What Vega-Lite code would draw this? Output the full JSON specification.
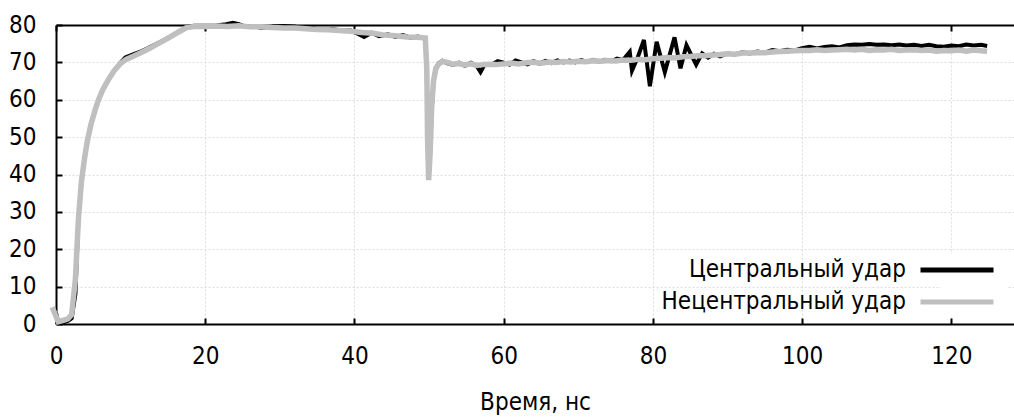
{
  "$schema": "https://vega.github.io/schema/vega-lite/v6.json",
  "width": 958,
  "height": 299,
  "autosize": {"type": "none"},
  "padding": {"left": 56, "top": 25, "right": 0, "bottom": 94},
  "background": "white",
  "config": {"font": "DejaVu Sans Condensed", "view": {"stroke": null}},
  "datasets": {
    "central": [
      {"t":0,"v":3},{"t":0.3,"v":0.5},{"t":1,"v":0.5},{"t":1.6,"v":0.8},{"t":2.1,"v":1.5},{"t":2.6,"v":8},{"t":3,"v":28},{"t":3.4,"v":38},{"t":3.8,"v":44},{"t":4.2,"v":49},{"t":4.7,"v":53.5},{"t":5.2,"v":57},{"t":5.7,"v":60},{"t":6.3,"v":62.8},{"t":7,"v":65.3},{"t":7.8,"v":67.8},{"t":8.6,"v":69.8},{"t":9.3,"v":71.3},{"t":10.5,"v":72.3},{"t":11.5,"v":73.0},{"t":12.3,"v":73.8},{"t":13.5,"v":75.0},{"t":14.5,"v":76.0},{"t":15.5,"v":77.1},{"t":16.5,"v":78.3},{"t":17.5,"v":79.5},{"t":18.5,"v":79.8},{"t":20,"v":79.8},{"t":21.5,"v":79.9},{"t":22.8,"v":80.2},{"t":23.7,"v":80.6},{"t":24.5,"v":80.2},{"t":25.3,"v":79.6},{"t":26.5,"v":79.6},{"t":27.5,"v":79.3},{"t":29,"v":79.6},{"t":30.5,"v":79.7},{"t":32,"v":79.6},{"t":33,"v":79.1},{"t":34.5,"v":79.2},{"t":35.5,"v":78.7},{"t":37,"v":78.9},{"t":38,"v":78.6},{"t":39.5,"v":78.5},{"t":40.5,"v":77.6},{"t":41.3,"v":76.8},{"t":42.3,"v":77.9},{"t":43.3,"v":77.0},{"t":44.5,"v":77.5},{"t":45.5,"v":76.8},{"t":46.5,"v":77.3},{"t":47.5,"v":76.6},{"t":48.5,"v":76.9},{"t":49.5,"v":76.4},{"t":49.7,"v":68},{"t":49.8,"v":50},{"t":49.95,"v":39},{"t":50.15,"v":46},{"t":50.35,"v":57},{"t":50.6,"v":65},{"t":50.9,"v":68.5},{"t":51.3,"v":69.8},{"t":51.8,"v":70.4},{"t":52.5,"v":69.7},{"t":53.2,"v":69.3},{"t":54,"v":69.9},{"t":54.8,"v":69.1},{"t":55.6,"v":69.9},{"t":56.4,"v":69.0},{"t":56.9,"v":67.4},{"t":57.5,"v":69.6},{"t":58.3,"v":69.3},{"t":59.2,"v":70.3},{"t":60,"v":69.9},{"t":60.8,"v":69.4},{"t":61.6,"v":70.5},{"t":62.4,"v":70.0},{"t":63.2,"v":69.5},{"t":64,"v":70.3},{"t":64.8,"v":69.7},{"t":65.6,"v":70.4},{"t":66.4,"v":69.8},{"t":67.2,"v":70.5},{"t":68,"v":70.0},{"t":68.8,"v":70.5},{"t":69.6,"v":70.0},{"t":70.4,"v":70.6},{"t":71.2,"v":70.1},{"t":72,"v":70.7},{"t":72.8,"v":70.2},{"t":73.6,"v":70.7},{"t":74.4,"v":70.3},{"t":75.2,"v":71.0},{"t":76,"v":70.6},{"t":76.9,"v":72.8},{"t":77.2,"v":67.8},{"t":78,"v":71.5},{"t":78.8,"v":76},{"t":79.6,"v":63.6},{"t":80.5,"v":75.5},{"t":81.6,"v":67.4},{"t":82.9,"v":76.7},{"t":83.7,"v":68.4},{"t":84.5,"v":74.6},{"t":85.8,"v":69.4},{"t":86.6,"v":72.4},{"t":87.4,"v":71.3},{"t":88.2,"v":72.3},{"t":89,"v":71.6},{"t":90,"v":72.4},{"t":91,"v":72.1},{"t":92,"v":72.7},{"t":93,"v":72.4},{"t":94,"v":72.9},{"t":95,"v":72.6},{"t":96,"v":73.3},{"t":97,"v":73.0},{"t":98,"v":73.4},{"t":99,"v":73.2},{"t":100,"v":73.8},{"t":101,"v":74.2},{"t":102,"v":73.7},{"t":103,"v":74.1},{"t":104,"v":74.3},{"t":105,"v":74.0},{"t":106,"v":74.6},{"t":107,"v":74.8},{"t":108,"v":74.7},{"t":109,"v":74.9},{"t":110,"v":74.7},{"t":111,"v":74.8},{"t":112,"v":74.6},{"t":113,"v":74.8},{"t":114,"v":74.5},{"t":115,"v":74.7},{"t":116,"v":74.4},{"t":117,"v":74.7},{"t":118,"v":74.3},{"t":119,"v":74.2},{"t":120,"v":74.5},{"t":121,"v":74.3},{"t":122,"v":74.8},{"t":123,"v":74.5},{"t":124,"v":74.7},{"t":124.8,"v":74.4}
    ],
    "offcentral": [
      {"t":-0.5,"v":4.5},{"t":0.3,"v":0.6},{"t":1,"v":1.0},{"t":1.6,"v":1.4},{"t":2.1,"v":2.5},{"t":2.6,"v":12},{"t":3,"v":28},{"t":3.4,"v":38},{"t":3.8,"v":44},{"t":4.2,"v":49},{"t":4.7,"v":53.5},{"t":5.2,"v":57},{"t":5.7,"v":60},{"t":6.3,"v":62.8},{"t":7,"v":65.3},{"t":7.8,"v":67.8},{"t":8.6,"v":69.6},{"t":9.4,"v":70.8},{"t":10.5,"v":71.8},{"t":11.5,"v":72.7},{"t":12.5,"v":73.7},{"t":13.5,"v":74.8},{"t":14.5,"v":75.9},{"t":15.5,"v":77},{"t":16.5,"v":78.2},{"t":17.5,"v":79.3},{"t":18.5,"v":79.6},{"t":20,"v":79.6},{"t":21.5,"v":79.7},{"t":23,"v":79.6},{"t":24.5,"v":79.8},{"t":26,"v":79.5},{"t":27.5,"v":79.5},{"t":29,"v":79.3},{"t":30.5,"v":79.2},{"t":32,"v":79.2},{"t":33.5,"v":79.0},{"t":35,"v":78.8},{"t":36.5,"v":78.7},{"t":38,"v":78.5},{"t":39.5,"v":78.3},{"t":41,"v":78.0},{"t":42.5,"v":77.8},{"t":44,"v":77.3},{"t":45.5,"v":77.1},{"t":47,"v":76.8},{"t":48.5,"v":76.7},{"t":49.5,"v":76.5},{"t":49.7,"v":68},{"t":49.8,"v":50},{"t":49.95,"v":38.5},{"t":50.15,"v":46},{"t":50.35,"v":58},{"t":50.6,"v":65},{"t":50.9,"v":68.3},{"t":51.3,"v":69.6},{"t":51.8,"v":70.2},{"t":52.5,"v":70.0},{"t":53.2,"v":69.5},{"t":54,"v":69.7},{"t":54.8,"v":69.3},{"t":55.6,"v":69.6},{"t":56.4,"v":69.2},{"t":57.2,"v":69.4},{"t":58,"v":69.5},{"t":59,"v":69.4},{"t":60,"v":69.6},{"t":61,"v":69.8},{"t":62,"v":69.6},{"t":63,"v":69.9},{"t":64,"v":70.0},{"t":65,"v":69.8},{"t":66,"v":70.1},{"t":67,"v":70.0},{"t":68,"v":70.2},{"t":69,"v":70.1},{"t":70,"v":70.3},{"t":71,"v":70.2},{"t":72,"v":70.4},{"t":73,"v":70.3},{"t":74,"v":70.5},{"t":75,"v":70.4},{"t":76,"v":70.6},{"t":77,"v":70.6},{"t":78,"v":70.8},{"t":79,"v":70.7},{"t":80,"v":71.0},{"t":81,"v":71.1},{"t":82,"v":71.3},{"t":83,"v":71.2},{"t":84,"v":71.5},{"t":85,"v":71.6},{"t":86,"v":71.8},{"t":87,"v":71.8},{"t":88,"v":72.0},{"t":89,"v":72.1},{"t":90,"v":72.3},{"t":91,"v":72.2},{"t":92,"v":72.5},{"t":93,"v":72.5},{"t":94,"v":72.6},{"t":95,"v":72.6},{"t":96,"v":72.8},{"t":97,"v":72.9},{"t":98,"v":73.0},{"t":99,"v":73.1},{"t":100,"v":73.2},{"t":101,"v":73.2},{"t":102,"v":73.4},{"t":103,"v":73.2},{"t":104,"v":73.3},{"t":105,"v":73.4},{"t":106,"v":73.5},{"t":107,"v":73.3},{"t":108,"v":73.5},{"t":109,"v":73.2},{"t":110,"v":73.4},{"t":111,"v":73.3},{"t":112,"v":73.5},{"t":113,"v":73.2},{"t":114,"v":73.3},{"t":115,"v":73.4},{"t":116,"v":73.2},{"t":117,"v":73.3},{"t":118,"v":73.0},{"t":119,"v":73.2},{"t":120,"v":73.1},{"t":121,"v":73.3},{"t":122,"v":73.0},{"t":123,"v":73.3},{"t":124,"v":73.1},{"t":124.8,"v":73.0}
    ]
  },
  "layer": [
    {
      "data": {"name": "central"},
      "transform": [{"calculate": "'Центральный удар'", "as": "s"}],
      "mark": {"type": "line", "strokeWidth": 4, "clip": false},
      "encoding": {
        "x": {
          "field": "t", "type": "quantitative",
          "scale": {"domain": [0, 128.4], "nice": false, "zero": false},
          "axis": {
            "orient": "bottom", "values": [0, 20, 40, 60, 80, 100, 120],
            "grid": true, "gridColor": "#dcdcdc", "gridDash": [2, 2], "gridWidth": 1,
            "domainColor": "black", "domainWidth": 2,
            "tickColor": "black", "tickWidth": 2, "tickSize": -6,
            "labelFontSize": 24, "labelColor": "black", "labelPadding": 26, "labelOverlap": false, "labelFlush": false,
            "title": "Время, нс", "titleFontSize": 24, "titleFontWeight": "normal", "titleColor": "black", "titlePadding": 22
          }
        },
        "y": {
          "field": "v", "type": "quantitative",
          "scale": {"domain": [0, 80], "nice": false},
          "axis": {
            "values": [0, 10, 20, 30, 40, 50, 60, 70, 80],
            "grid": true, "gridColor": "#dcdcdc", "gridDash": [2, 2], "gridWidth": 1,
            "domainColor": "black", "domainWidth": 2,
            "tickColor": "black", "tickWidth": 2, "tickSize": -6,
            "labelFontSize": 24, "labelColor": "black", "labelPadding": 26, "labelOverlap": false, "labelFlush": false,
            "title": null
          }
        },
        "color": {
          "field": "s", "type": "nominal",
          "scale": {"domain": ["Центральный удар", "Нецентральный удар"], "range": ["#000000", "#bfbfbf"]},
          "legend": {
            "title": null, "orient": "bottom-right", "offset": 6,
            "symbolType": "M-4,0H4", "symbolSize": 333, "symbolStrokeWidth": 5,
            "labelFontSize": 24, "labelColor": "black", "labelAlign": "right", "labelOffset": -63, "labelLimit": 400,
            "rowPadding": 8, "fillColor": "white", "padding": 4
          }
        }
      }
    },
    {
      "data": {"name": "offcentral"},
      "transform": [{"calculate": "'Нецентральный удар'", "as": "s"}],
      "mark": {"type": "line", "strokeWidth": 5.5, "clip": false},
      "encoding": {
        "x": {
          "field": "t", "type": "quantitative",
          "axis": {
            "orient": "top", "values": [0, 20, 40, 60, 80, 100, 120],
            "grid": false, "labels": false, "title": null,
            "domainColor": "black", "domainWidth": 2,
            "tickColor": "black", "tickWidth": 2, "tickSize": -6
          }
        },
        "y": {
          "field": "v", "type": "quantitative",
          "axis": {
            "values": [0, 10, 20, 30, 40, 50, 60, 70, 80],
            "grid": true, "gridColor": "#dcdcdc", "gridDash": [2, 2], "gridWidth": 1,
            "domainColor": "black", "domainWidth": 2,
            "tickColor": "black", "tickWidth": 2, "tickSize": -6,
            "labelFontSize": 24, "labelColor": "black", "labelPadding": 26, "labelOverlap": false, "labelFlush": false,
            "title": null
          }
        },
        "color": {"field": "s", "type": "nominal"}
      }
    }
  ],
  "resolve": {"axis": {"x": "independent"}}
}
